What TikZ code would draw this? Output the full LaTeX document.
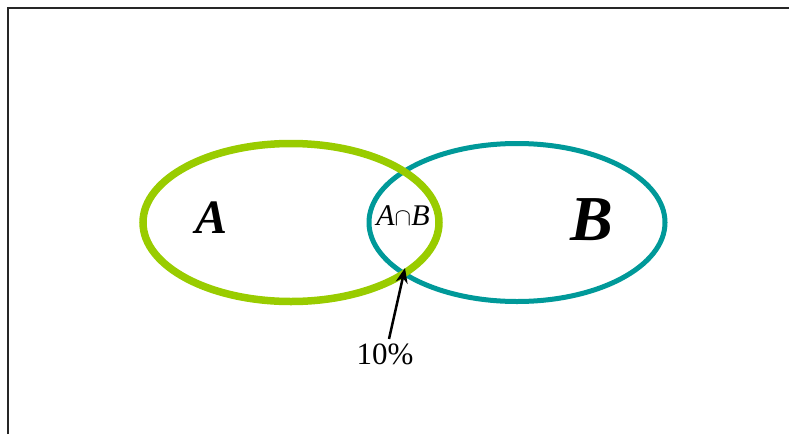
\documentclass[tikz,border=0pt]{standalone}
\usepackage{fontspec}
\setmainfont{Liberation Serif}
\usetikzlibrary{arrows.meta}
\definecolor{cgreen}{HTML}{99CC00}
\definecolor{cteal}{HTML}{009999}
\tikzset{
  setring/.style={line width=#1},
  frameline/.style={line width=2pt, draw=black!85},
  pointer/.style={line width=2.5pt, -{Stealth[length=15pt,width=12pt]}},
}
\begin{document}
\begin{tikzpicture}[x=1pt,y=-1pt]
\useasboundingbox (0,0) rectangle (789,434);
\coordinate (fbl) at (8,434);
\coordinate (ftl) at (8,7.5);
\coordinate (ftr) at (789,7.5);
\draw[frameline] (fbl) -- (ftl) -- (ftr);
\draw[setring=5pt, cteal] (517,222.5) ellipse[x radius=148, y radius=79];
\draw[setring=7.5pt, cgreen] (291,222.5) ellipse[x radius=148, y radius=79];
\node (la) at (212,218) {\fontsize{48}{48}\selectfont\bfseries\itshape A};
\node (lb) at (592,220) {\fontsize{64}{64}\selectfont\bfseries\itshape B};
\node (lab) at (403,216) {\fontsize{30}{30}\selectfont\itshape A$\cap$B};
\node (pct) at (385,354) {\fontsize{31}{31}\selectfont 10\%};
\coordinate (tip) at (405,268);
\draw[pointer] (pct.north) ++(4,-1) -- (tip);
\end{tikzpicture}
\end{document}
